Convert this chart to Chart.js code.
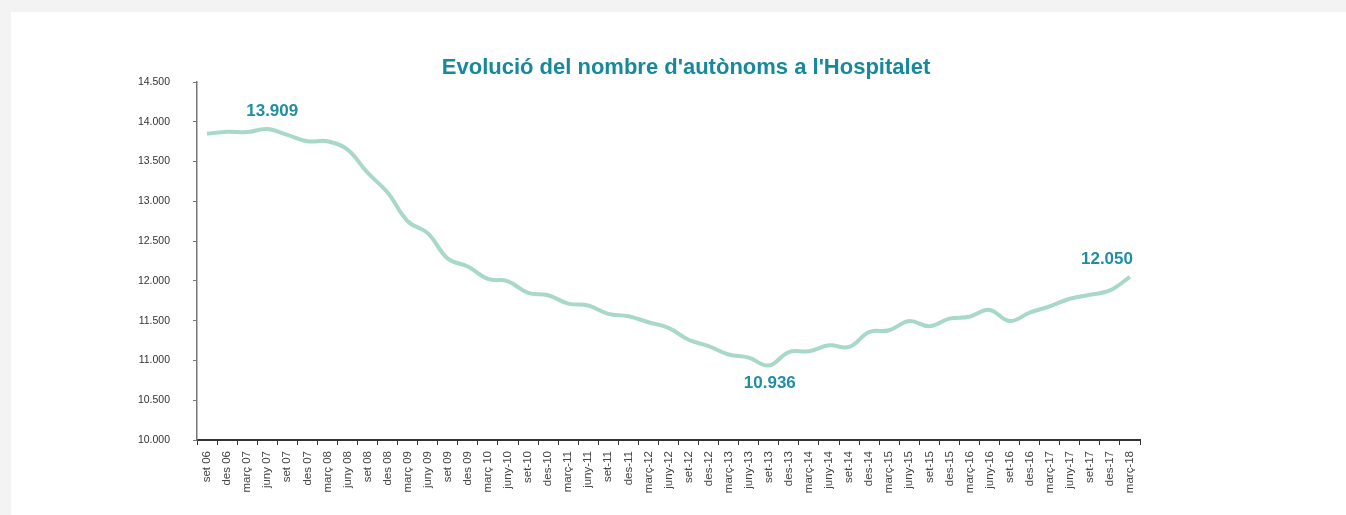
<!DOCTYPE html>
<html>
<head>
<meta charset="utf-8">
<script src="https://cdn.jsdelivr.net/npm/chart.js@4.4.0/dist/chart.umd.min.js"></script>
<style>
  html, body { margin: 0; padding: 0; background: #f3f3f3; }
  #card { position: absolute; left: 11px; top: 12px; width: 1335px; height: 503px; background: #fff; }
</style>
</head>
<body>
<div id="card"><canvas id="autonomsChart" width="1335" height="503"></canvas></div>
<script>
// trimestres, set 06 - març 18
var quarters = ['set 06', 'des 06', 'març 07', 'juny 07', 'set 07', 'des 07', 'març 08', 'juny 08',
    'set 08', 'des 08', 'març 09', 'juny 09', 'set 09', 'des 09', 'març 10', 'juny-10', 'set-10', 'des-10',
    'març-11', 'juny-11', 'set-11', 'des-11', 'març-12', 'juny-12', 'set-12', 'des-12', 'març-13', 'juny-13',
    'set-13', 'des-13', 'març-14', 'juny-14', 'set-14', 'des-14', 'març-15', 'juny-15', 'set-15', 'des-15',
    'març-16', 'juny-16', 'set-16', 'des-16', 'març-17', 'juny-17', 'set-17', 'des-17', 'març-18'];

// nombre d'autònoms
var autonoms = [13850, 13875, 13870, 13909, 13835, 13755, 13755, 13650,
    13360, 13110, 12750, 12600, 12280, 12180, 12025, 11995, 11850, 11820,
    11715, 11690, 11585, 11555, 11480, 11410, 11260, 11180, 11075, 11035,
    10936, 11105, 11115, 11190, 11170, 11355, 11380, 11495, 11430, 11525,
    11550, 11635, 11495, 11600, 11680, 11775, 11825, 11880, 12050];

// valors destacats: índex i posició de l'etiqueta
var highlights = [
    { index: 3, place: 'above', align: 'center', dx: 5 },
    { index: 28, place: 'below', align: 'center', dx: 1 },
    { index: 46, place: 'above', align: 'right', dx: 3 }
];

var yMin = 10000, yMax = 14500, yStep = 500;
var titleText = "Evolució del nombre d'autònoms a l'Hospitalet";

function fmt(n) {
    return String(n).replace(/\B(?=(\d{3})+(?!\d))/g, '.');
}

// títol i etiquetes dels valors destacats
var chartText = {
    id: 'chartText',
    afterDatasetsDraw: function(chart) {
        var ctx = chart.ctx;
        var meta = chart.getDatasetMeta(0);
        ctx.save();
        ctx.textBaseline = 'middle';
        ctx.textAlign = 'center';
        ctx.font = 'bold 22px "Liberation Sans", Arial, sans-serif';
        ctx.fillStyle = '#17899a';
        ctx.fillText(titleText, 675, 56);

        ctx.font = 'bold 17px "Liberation Sans", Arial, sans-serif';
        ctx.fillStyle = '#1f8ea4';
        highlights.forEach(function(h) {
            var pt = meta.data[h.index];
            var y = h.place === 'above' ? pt.y - 18 : pt.y + 18;
            ctx.textAlign = h.align;
            ctx.fillText(fmt(autonoms[h.index]), pt.x + h.dx, y);
        });
        ctx.restore();
    }
};

var ctx = document.getElementById('autonomsChart').getContext('2d');
var chart = new Chart(ctx, {
    type: 'line',
    data: {
        labels: quarters,
        datasets: [{
            data: autonoms,
            borderColor: '#a8d8c8',
            borderWidth: 4,
            tension: 0.4,
            pointRadius: 0,
            fill: false
        }]
    },
    options: {
        responsive: false,
        animation: false,
        layout: { padding: { left: 15, right: 206, top: 70, bottom: 0 } },
        plugins: {
            legend: { display: false },
            tooltip: { enabled: false }
        },
        scales: {
            x: {
                offset: true,
                grid: { offset: true, drawOnChartArea: false, drawTicks: true, tickLength: 5, color: '#333', lineWidth: 1 },
                border: { display: true, color: '#333', width: 2 },
                ticks: {
                    autoSkip: false,
                    maxRotation: 90,
                    minRotation: 90,
                    padding: 6,
                    color: '#444',
                    font: { family: '"Liberation Sans", Arial, sans-serif', size: 11.5 }
                },
                afterFit: function(scale) { scale.height = 75; }
            },
            y: {
                min: yMin,
                max: yMax,
                grid: { drawOnChartArea: false, drawTicks: true, tickLength: 4, color: '#777' },
                border: { display: true, color: '#777', width: 1.5 },
                ticks: {
                    stepSize: yStep,
                    padding: 23,
                    color: '#333',
                    font: { family: '"Liberation Sans", Arial, sans-serif', size: 10.5 },
                    callback: function(v) { return fmt(v); }
                },
                afterFit: function(scale) { scale.width = 171; }
            }
        }
    },
    plugins: [chartText]
});
</script>
</body>
</html>
